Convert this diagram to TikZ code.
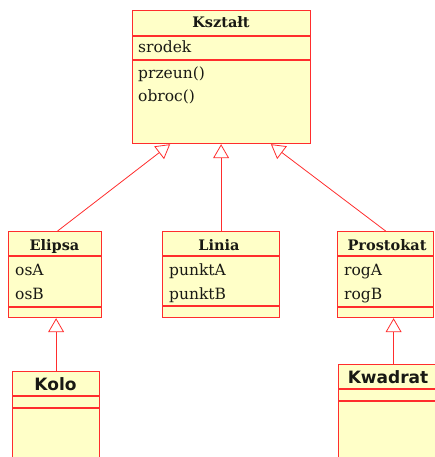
\documentclass[tikz,border=0pt]{standalone}
\usepackage{fontspec}
\setmainfont{DejaVu Serif}
\newfontfamily\boldsans{DejaVu Sans}
\usetikzlibrary{arrows.meta,calc}
\definecolor{umlred}{RGB}{255,45,45}
\definecolor{umlfill}{RGB}{255,255,200}
\definecolor{umltext}{RGB}{25,25,20}
\tikzset{
  classbox/.style={draw=umlred, fill=umlfill, line width=1.2pt, anchor=north west, inner sep=0pt},
  sepline/.style={draw=umlred, line width=1.2pt},
  title/.style={anchor=base, inner sep=0pt, text=umltext, font=\fontsize{14.5}{16}\selectfont\bfseries},
  sanstitle/.style={anchor=base, inner sep=0pt, text=umltext, font=\boldsans\fontsize{17}{19}\selectfont\bfseries},
  member/.style={anchor=base west, inner sep=0pt, text=umltext, font=\fontsize{15.5}{17}\selectfont},
  inherit/.style={draw=umlred, line width=0.8pt, -{Triangle[open, width=16pt, length=14pt, fill=white, line width=0.8pt]}}
}
\begin{document}
\begin{tikzpicture}[x=1pt,y=-1pt]
\useasboundingbox (0,0) rectangle (435,457);
\clip (0,0) rectangle (435,457);
% Ksztalt
\node[classbox, minimum width=178pt, minimum height=133pt] (ksz) at (132,10) {};
\draw[sepline] ([yshift=-26pt]ksz.north west) -- ([yshift=-26pt]ksz.north east);
\draw[sepline] ([yshift=-50pt]ksz.north west) -- ([yshift=-50pt]ksz.north east);
\node[title] (kszt) at (221,28) {Kształt};
\node[member] (kszm1) at (138,53) {srodek};
\node[member] (kszm2) at (138,79) {przeun()};
\node[member] (kszm3) at (138,102) {obroc()};
% Elipsa
\node[classbox, minimum width=93pt, minimum height=86pt] (eli) at (8,231) {};
\draw[sepline] ([yshift=-25pt]eli.north west) -- ([yshift=-25pt]eli.north east);
\draw[sepline] ([yshift=-76pt]eli.north west) -- ([yshift=-76pt]eli.north east);
\node[title] (elit) at (54.5,250) {Elipsa};
\node[member] (elim1) at (15,275) {osA};
\node[member] (elim2) at (15,299) {osB};
% Linia
\node[classbox, minimum width=117pt, minimum height=86pt] (lin) at (162,231) {};
\draw[sepline] ([yshift=-25pt]lin.north west) -- ([yshift=-25pt]lin.north east);
\draw[sepline] ([yshift=-75pt]lin.north west) -- ([yshift=-75pt]lin.north east);
\node[title] (lint) at (219,250) {Linia};
\node[member] (linm1) at (169,275) {punktA};
\node[member] (linm2) at (169,299) {punktB};
% Prostokat
\node[classbox, minimum width=96pt, minimum height=86pt] (pro) at (337,231) {};
\draw[sepline] ([yshift=-25pt]pro.north west) -- ([yshift=-25pt]pro.north east);
\draw[sepline] ([yshift=-76pt]pro.north west) -- ([yshift=-76pt]pro.north east);
\node[title] (prot) at (387,250) {Prostokat};
\node[member] (prom1) at (344,275) {rogA};
\node[member] (prom2) at (344,299) {rogB};
% Kolo
\node[classbox, minimum width=87pt, minimum height=110pt] (kol) at (12,371) {};
\draw[sepline] ([yshift=-25pt]kol.north west) -- ([yshift=-25pt]kol.north east);
\draw[sepline] ([yshift=-37pt]kol.north west) -- ([yshift=-37pt]kol.north east);
\node[sanstitle] (kolt) at (55.5,390) {Kolo};
% Kwadrat
\node[classbox, minimum width=110pt, minimum height=110pt] (kwa) at (338,364) {};
\draw[sepline] ([yshift=-25pt]kwa.north west) -- ([yshift=-25pt]kwa.north east);
\draw[sepline] ([yshift=-37pt]kwa.north west) -- ([yshift=-37pt]kwa.north east);
\node[sanstitle] (kwat) at (388,383) {Kwadrat};
% inheritance
\draw[inherit] ([xshift=2.5pt]eli.north) -- ($(ksz.south west)!0.213!(ksz.south east)$);
\draw[inherit] (lin.north) -- (lin.north |- ksz.south);
\draw[inherit] (pro.north) -- ($(ksz.south west)!0.775!(ksz.south east)$);
\draw[inherit] (kol.north) -- (kol.north |- eli.south);
\draw[inherit] (kwa.north) -- (kwa.north |- pro.south);
\end{tikzpicture}
\end{document}
